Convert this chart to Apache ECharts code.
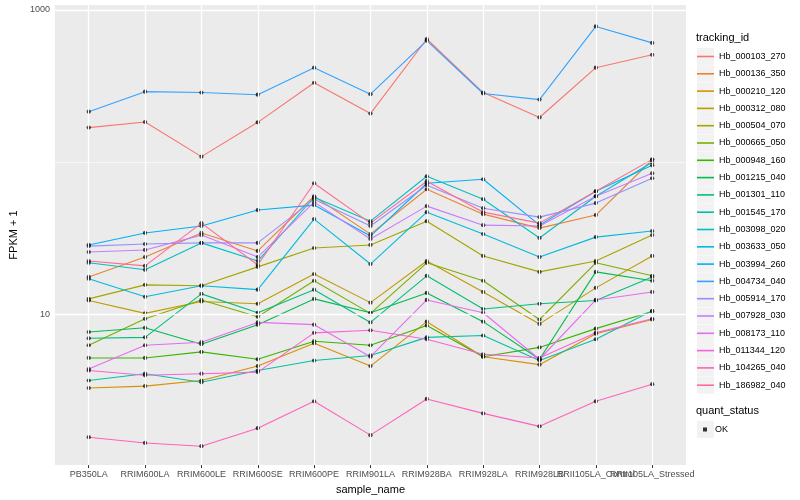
<!DOCTYPE html>
<html><head><meta charset="utf-8">
<script src="https://cdn.jsdelivr.net/npm/echarts@6/dist/echarts.min.js"></script>
<style>html,body{margin:0;padding:0;background:#fff}#c{width:800px;height:500px}</style>
</head><body><div id="c"></div>
<script>
const categories = ["PB350LA","RRIM600LA","RRIM600LE","RRIM600SE","RRIM600PE","RRIM901LA","RRIM928BA","RRIM928LA","RRIM928LB","RRII105LA_Control","RRII105LA_Stressed"];
const yTickLabels = [10, 1000];
const trackingIds = ["Hb_000103_270","Hb_000136_350","Hb_000210_120","Hb_000312_080","Hb_000504_070","Hb_000665_050","Hb_000948_160","Hb_001215_040","Hb_001301_110","Hb_001545_170","Hb_003098_020","Hb_003633_050","Hb_003994_260","Hb_004734_040","Hb_005914_170","Hb_007928_030","Hb_008173_110","Hb_011344_120","Hb_104265_040","Hb_186982_040"];

const hb_000103_270 = [169, 184, 109, 183, 333, 209, 645, 287, 197, 418, 508];
const hb_000136_350 = [17.7, 23.9, 34.4, 26.2, 59.9, 33.8, 66.6, 45.7, 37.0, 45.1, 104];
const hb_000210_120 = [3.3, 3.4, 3.7, 4.6, 6.5, 4.6, 9.0, 5.3, 4.7, 7.5, 9.3];
const hb_000312_080 = [12.4, 10.2, 12.2, 11.8, 18.5, 12.0, 22.5, 14.1, 8.7, 15.0, 24.3];
const hb_000504_070 = [12.7, 15.7, 15.5, 20.6, 27.4, 28.7, 41.1, 24.3, 19.1, 22.5, 33.3];
const hb_000665_050 = [6.3, 9.4, 12.5, 9.7, 16.7, 10.2, 21.9, 16.7, 9.3, 21.9, 18.0];
const hb_000948_160 = [5.2, 5.2, 5.7, 5.1, 6.7, 6.3, 8.5, 5.3, 6.1, 8.1, 10.5];
const hb_001215_040 = [7.7, 8.2, 6.4, 8.6, 12.7, 10.3, 13.9, 9.0, 5.1, 19.1, 16.7];
const hb_001301_110 = [7.0, 7.1, 13.7, 10.3, 14.6, 8.9, 18.0, 10.9, 11.8, 12.4, 17.7];
const hb_001545_170 = [3.7, 4.1, 3.6, 4.3, 5.0, 5.4, 7.1, 7.3, 5.0, 6.9, 10.6];
const hb_003098_020 = [21.9, 19.7, 29.6, 22.5, 59.0, 41.1, 81.0, 57.3, 31.9, 59.9, 100];
const hb_003633_050 = [17.2, 13.1, 15.5, 14.6, 42.4, 21.5, 47.1, 33.8, 23.9, 32.3, 35.4];
const hb_003994_260 = [28.7, 34.4, 38.2, 48.6, 52.4, 32.8, 72.9, 77.4, 38.7, 64.6, 95.6];
const hb_004734_040 = [215, 291, 287, 278, 418, 280, 630, 283, 258, 780, 608];
const hb_005914_170 = [28.2, 29.1, 29.6, 29.6, 57.3, 38.2, 70.8, 50.0, 43.7, 54.0, 78.6];
const hb_007928_030 = [25.8, 26.6, 33.3, 23.9, 54.8, 31.4, 51.6, 38.7, 38.2, 59.9, 84.7];
const hb_008173_110 = [4.4, 6.3, 6.6, 8.9, 8.6, 5.3, 12.5, 10.3, 5.1, 12.5, 14.1];
const hb_011344_120 = [4.3, 4.0, 4.1, 4.2, 7.6, 7.9, 6.9, 5.5, 5.2, 7.6, 9.4];
const hb_104265_040 = [1.57, 1.44, 1.37, 1.80, 2.7, 1.62, 2.8, 2.25, 1.85, 2.7, 3.5];
const hb_186982_040 = [22.5, 20.9, 39.9, 21.2, 72.9, 39.9, 75.2, 47.1, 39.9, 64.6, 104.6];

const seriesValues = [hb_000103_270, hb_000136_350, hb_000210_120, hb_000312_080, hb_000504_070, hb_000665_050, hb_000948_160, hb_001215_040, hb_001301_110, hb_001545_170, hb_003098_020, hb_003633_050, hb_003994_260, hb_004734_040, hb_005914_170, hb_007928_030, hb_008173_110, hb_011344_120, hb_104265_040, hb_186982_040];

const palette = ["#F8766D","#EA8331","#D89000","#C09B00","#A3A500","#7CAE00","#39B600","#00BB4E","#00BF7D","#00C1A3","#00BFC4","#00BAE0","#00B0F6","#35A2FF","#9590FF","#C77CFF","#E76BF3","#FA62DB","#FF62BC","#FF6C91"];

const FONT = "'Liberation Sans', Arial, sans-serif";
const xIdx = categories.map((c, i) => i);
// label positions padded with blank edge entries so ECharts' min/max overlap rule never drops a real label
const xLabelValues = [-0.6].concat(xIdx).concat([10.6]);

const lineSeries = trackingIds.map((id, k) => ({
  name: id, type: 'line', z: 2, showSymbol: false, silent: true,
  color: palette[k],
  lineStyle: { color: palette[k], width: 1.1 },
  data: seriesValues[k].map((v, i) => [i, v])
}));

const pointData = [];
seriesValues.forEach(arr => arr.forEach((v, i) => pointData.push([i, v])));

const gridSeries = {
  type: 'line', name: '__grid', z: 1, data: [], silent: true,
  markLine: {
    silent: true, symbol: 'none', label: { show: false }, animation: false,
    data: [
      { yAxis: 10, lineStyle: { color: '#ffffff', width: 1.3, type: 'solid' } },
      { yAxis: 1000, lineStyle: { color: '#ffffff', width: 1.3, type: 'solid' } },
      { yAxis: 100, lineStyle: { color: '#ffffff', width: 0.6, type: 'solid' } }
    ].concat(xIdx.map(i => ({ xAxis: i, lineStyle: { color: '#ffffff', width: 1.3, type: 'solid' } })))
  }
};

const KEY_TOP = 48, KEY_STEP = 17.3;
const graphics = [];
trackingIds.forEach((id, i) => graphics.push({
  type: 'rect', left: 697, top: KEY_TOP + i * KEY_STEP, z: 0,
  shape: { width: 17, height: 17 }, style: { fill: '#f2f2f2' }
}));
graphics.push({ type: 'rect', left: 697, top: 421, z: 0, shape: { width: 17, height: 17 }, style: { fill: '#f2f2f2' } });
graphics.push({ type: 'text', left: 696, top: 32, z: 5, style: { text: 'tracking_id', fontSize: 11, fill: '#000', fontFamily: FONT } });
graphics.push({ type: 'text', left: 696, top: 405, z: 5, style: { text: 'quant_status', fontSize: 11, fill: '#000', fontFamily: FONT } });

const option = {
  animation: false,
  textStyle: { fontFamily: FONT },
  grid: { left: 45, right: 114, top: 5, bottom: 33, show: true, backgroundColor: '#ebebeb', borderWidth: 0 },
  xAxis: {
    type: 'value', min: -0.6, max: 10.6,
    axisLine: { show: false }, splitLine: { show: false },
    axisTick: { show: true, length: 3, lineStyle: { color: '#333333' }, customValues: xIdx },
    axisLabel: {
      customValues: xLabelValues,
      formatter: v => { const i = Math.round(v); return (Math.abs(v - i) < 1e-6 && categories[i]) ? categories[i] : ''; },
      color: '#4d4d4d', fontSize: 9, margin: 5, hideOverlap: false
    },
    name: 'sample_name', nameLocation: 'middle', nameGap: 16,
    nameTextStyle: { fontSize: 11, color: '#000' }
  },
  yAxis: {
    type: 'log', logBase: 10, min: 1.03, max: 1078,
    axisLine: { show: false }, splitLine: { show: false }, minorSplitLine: { show: false },
    axisTick: { show: true, length: 3, lineStyle: { color: '#333333' }, customValues: yTickLabels },
    axisLabel: { customValues: yTickLabels, formatter: v => String(Math.round(v)), color: '#4d4d4d', fontSize: 9, margin: 5, showMinLabel: true, showMaxLabel: true },
    name: 'FPKM + 1', nameLocation: 'middle', nameGap: 28,
    nameTextStyle: { fontSize: 11, color: '#000' }
  },
  legend: [
    {
      data: trackingIds, orient: 'vertical', left: 697, top: KEY_TOP, padding: 0,
      itemWidth: 17, itemHeight: 1.6, itemGap: 0.3, icon: 'rect', selectedMode: false,
      textStyle: { fontSize: 9, color: '#000', lineHeight: 17, fontFamily: FONT }
    },
    {
      data: ['OK'], orient: 'vertical', left: 703, top: 421, padding: 0,
      itemWidth: 4, itemHeight: 4, icon: 'rect', selectedMode: false,
      textStyle: { fontSize: 9, color: '#000', lineHeight: 17, padding: [0, 0, 0, 3], fontFamily: FONT }
    }
  ],
  graphic: { elements: graphics },
  series: [gridSeries].concat(lineSeries).concat([{
    name: 'OK', type: 'scatter', z: 3, silent: true, symbol: 'circle', symbolSize: 4.2,
    itemStyle: { color: '#000' }, data: pointData
  }])
};

const chart = echarts.init(document.getElementById('c'), null, { renderer: 'canvas' });
chart.setOption(option);
</script>
</body></html>
